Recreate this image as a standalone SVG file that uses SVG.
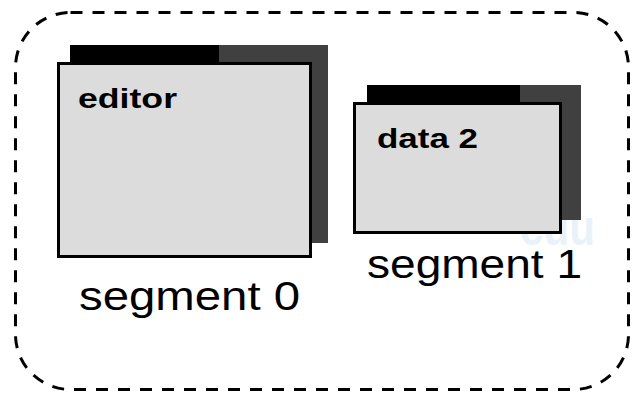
<svg xmlns="http://www.w3.org/2000/svg" width="632" height="393" viewBox="0 0 632 393">
<style>
.bk{fill:#000}
.gr{fill:#404040}
.fr{fill:#dcdcdc;stroke:#000;stroke-width:3}
.lbl{font-family:"Liberation Sans",Arial,sans-serif;font-weight:bold;font-size:28px;fill:#000}
.seg{font-family:"Liberation Sans",Arial,sans-serif;font-size:40px;fill:#000}
.wm{font-family:"Liberation Sans",Arial,sans-serif;font-weight:bold;font-size:50px;fill:#eaf2f9}
</style>
<rect width="632" height="393" fill="#fff"/>
<text class="wm" x="520" y="245" textLength="75" lengthAdjust="spacingAndGlyphs">cuu</text>
<g id="container">
<rect x="15.5" y="12.5" width="613" height="377" rx="55" ry="55" fill="none" stroke="#000" stroke-width="3" stroke-dasharray="12 10"/>
</g>
<g id="segment0">
<rect class="bk" x="70" y="45" width="149" height="20"/>
<rect class="gr" x="219" y="45" width="109" height="198"/>
<rect class="fr" x="58.5" y="63.5" width="252" height="193"/>
<text class="lbl" x="78" y="108" textLength="99" lengthAdjust="spacingAndGlyphs">editor</text>
<text class="seg" x="79" y="310" textLength="221" lengthAdjust="spacingAndGlyphs">segment 0</text>
</g>
<g id="segment1">
<rect class="bk" x="367" y="85" width="153" height="20"/>
<rect class="gr" x="520" y="85" width="61" height="135"/>
<rect class="fr" x="354.5" y="103.5" width="206" height="129"/>
<text class="lbl" x="377" y="148" textLength="101" lengthAdjust="spacingAndGlyphs">data 2</text>
<text class="seg" x="367" y="278" textLength="215" lengthAdjust="spacingAndGlyphs">segment 1</text>
</g>
<g id="connectors"/>
</svg>
